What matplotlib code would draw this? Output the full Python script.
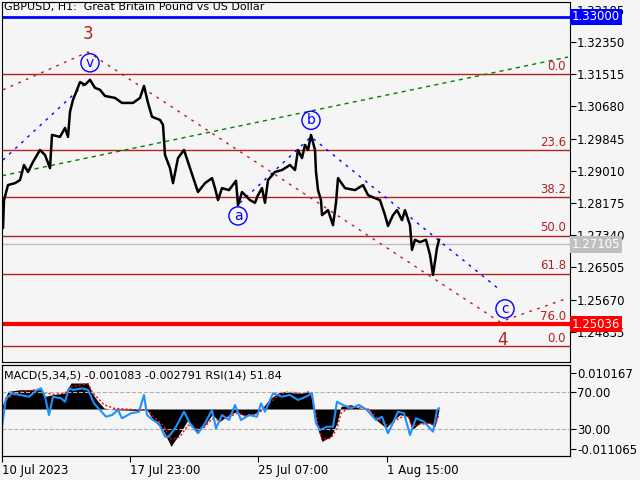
import matplotlib
matplotlib.use('Agg')
import matplotlib.pyplot as plt
import matplotlib.transforms as mtrans

# price trace (bar position, close)
px = [3, 4, 8, 15, 20, 24, 28, 33, 40, 45, 50, 52, 60, 65, 68, 70, 73, 77, 80, 85, 90, 95, 100,
      105, 115, 122, 128, 133, 140, 144, 148, 152, 160, 163, 165, 170, 173, 178, 184, 190, 195,
      198, 205, 212, 215, 218, 222, 229, 236, 238, 242, 250, 255, 258, 262, 265, 268, 275, 282,
      290, 295, 298, 302, 305, 308, 311, 315, 316, 318, 321, 322, 328, 333, 336, 338, 345, 355,
      363, 368, 375, 380, 385, 388, 393, 397, 402, 405, 410, 412, 415, 420, 426, 430, 433, 437, 439]
price = [1.2753, 1.2825, 1.2864, 1.2869, 1.2877, 1.2916, 1.2898, 1.2924, 1.2955, 1.2942, 1.2908,
         1.2994, 1.2989, 1.3012, 1.2989, 1.3054, 1.3085, 1.3111, 1.3131, 1.3124, 1.3137, 1.3116,
         1.3111, 1.3095, 1.3090, 1.3077, 1.3077, 1.3077, 1.3090, 1.3121, 1.3077, 1.3041, 1.3033,
         1.3020, 1.2942, 1.2908, 1.2869, 1.2934, 1.2955, 1.2908, 1.2869, 1.2846, 1.2869, 1.2882,
         1.2856, 1.2825, 1.2856, 1.2851, 1.2875, 1.2812, 1.2846, 1.2825, 1.2818, 1.2838, 1.2856,
         1.2818, 1.2877, 1.2898, 1.2903, 1.2916, 1.2903, 1.2955, 1.2934, 1.2968, 1.2955, 1.2994,
         1.2955, 1.2898, 1.2851, 1.2825, 1.2786, 1.2799, 1.2760, 1.2818, 1.2882, 1.2856, 1.2851,
         1.2864, 1.2838, 1.2830, 1.2825, 1.2786, 1.2758, 1.2786, 1.2799, 1.2773, 1.2799, 1.2760,
         1.2696, 1.2722, 1.2716, 1.2722, 1.2683, 1.2631, 1.2701, 1.2722]

fib_levels = [1.31515, 1.29540, 1.28320, 1.27330, 1.26345, 1.25036, 1.24460]
fib_labels = ['0.0', '23.6', '38.2', '50.0', '61.8', '76.0', '0.0']
yticks = [1.33185, 1.32350, 1.31515, 1.30680, 1.29845, 1.29010, 1.28175,
          1.27340, 1.26505, 1.25670, 1.24835]

# indicator
rsi_x = [2, 6, 12, 20, 29, 37, 41, 45, 49, 53, 61, 65, 69, 73, 82, 88, 94, 100, 106, 112, 118, 122,
         131, 139, 144, 147, 153, 159, 165, 169, 176, 184, 190, 198, 204, 212, 216, 222, 229, 235,
         241, 249, 257, 261, 265, 273, 282, 290, 298, 306, 312, 316, 320, 327, 333, 337, 343, 351,
         359, 367, 376, 382, 388, 392, 398, 404, 410, 416, 424, 433, 437, 439]
rsi = [32.5, 63.2, 68.6, 66.8, 64.9, 72.2, 74.0, 64.9, 45.1, 64.9, 63.2, 59.5, 74.0, 72.2, 74.0,
       72.2, 57.7, 50.5, 43.3, 45.1, 50.5, 41.6, 47.0, 48.7, 66.8, 45.1, 39.7, 36.1, 21.7, 21.7,
       32.5, 48.7, 36.1, 25.4, 34.3, 50.5, 30.8, 45.1, 39.7, 56.0, 39.7, 45.1, 43.3, 57.7, 48.7,
       68.6, 64.9, 66.8, 61.4, 64.9, 68.6, 36.1, 28.9, 32.5, 32.5, 59.5, 56.0, 52.4, 56.0, 50.5,
       39.7, 43.3, 25.4, 34.3, 48.7, 47.0, 23.5, 41.6, 37.9, 27.1, 50.5, 52.4]
macd_x = [2, 8, 20, 33, 41, 45, 53, 65, 71, 88, 92, 98, 104, 114, 135, 147, 153, 163, 171, 180, 188,
          196, 204, 212, 220, 229, 237, 245, 253, 261, 269, 278, 286, 294, 302, 310, 314, 318, 322,
          331, 337, 341, 351, 359, 369, 376, 386, 392, 400, 408, 412, 420, 429, 435, 439]
macd = [0.00073, 0.00493, 0.0054, 0.0054, 0.0054, 0.00353, 0.004, 0.00448, 0.00728, 0.00728,
        0.00448, 0.00213, 0.00028, -0.0002, -0.00039, -0.0002, -0.003, -0.0058, -0.01047, -0.00672,
        -0.003, -0.00627, -0.00487, -0.0016, -0.00347, -0.0016, -0.00067, -0.00207, -0.0016,
        -0.0002, 0.0026, 0.00448, 0.00493, 0.00448, 0.00448, 0.00493, -0.0002, -0.0058, -0.00907,
        -0.00767, -0.00392, 0.00073, 0.0012, 0.00028, -0.0002, -0.003, -0.00532, -0.00347, -0.0016,
        -0.00207, -0.0058, -0.00392, -0.00392, -0.00487, -0.0002]
signal = [0.0005, 0.003, 0.0048, 0.0053, 0.0054, 0.0045, 0.0041, 0.0044, 0.0062, 0.0071,
          0.0048, 0.003, 0.0012, 0.0002, -0.0002, -0.0002, -0.002, -0.0045, -0.0085, -0.0078,
          -0.0045, -0.0055, -0.0052, -0.0028, -0.0032, -0.0022, -0.0012, -0.0018, -0.0016, -0.0006,
          0.0015, 0.0038, 0.0047, 0.0046, 0.0045, 0.0048, 0.0012, -0.0042, -0.0085, -0.0082,
          -0.0055, -0.0012, 0.0008, 0.0004, -0.0001, -0.0022, -0.0045, -0.0040, -0.0024, -0.0021,
          -0.0048, -0.0043, -0.0040, -0.0046, -0.0015]
xtick_pos = [2, 130, 258, 387]
xtick_labels = ['10 Jul 2023', '17 Jul 23:00', '25 Jul 07:00', '1 Aug 15:00']

bg = '#f5f5f5'
brown = '#b22222'
fig = plt.figure(figsize=(6.4, 4.8), dpi=100, facecolor=bg)
ax = fig.add_axes([2/640, 118/480, 568/640, 360/480], facecolor=bg)
ax.set_xlim(2, 570)
ax.set_ylim(1.24052, 1.33387)

for lv in fib_levels:
    ax.axhline(lv, color=brown, lw=1)
for lv, lb in zip(fib_levels, fib_labels):
    ax.text(566, lv + 0.0004, lb, color=brown, fontsize=8.5, ha='right', va='bottom')
ax.axhline(1.33000, color='blue', lw=2)
ax.axhline(1.27105, color='#c0c0c0', lw=1)
ax.axhline(1.25036, color='red', lw=3)

# wave/channel lines
ax.plot([3, 84], [1.2929, 1.3124], color='blue', ls=(0, (2, 4)), lw=1)
ax.plot([240, 311, 500], [1.2818, 1.2989, 1.2592], color='blue', ls=(0, (2, 4)), lw=1)
ax.plot([3, 88, 500, 568], [1.3111, 1.3209, 1.2509, 1.2571], color=brown, ls=(0, (2, 4)), lw=1)
ax.plot([2, 568], [1.2888, 1.3196], color='green', ls=(0, (3, 3)), lw=1)

ax.plot(px, price, color='black', lw=1.8)

circ = dict(boxstyle='circle,pad=0.15', fc='none', ec='blue', lw=1)
for x, y, t in [(90, 1.3181, 'v'), (238, 1.2784, 'a'), (311, 1.3032, 'b'), (505, 1.2543, 'c')]:
    ax.text(x, y, t, color='blue', fontsize=10, ha='center', va='center', bbox=circ)
ax.text(88, 1.3256, '3', color=brown, fontsize=12, ha='center', va='center')
ax.text(502, 1.2463, '4', color=brown, fontsize=12, ha='center', va='center')
ax.text(4, 1.3325, 'GBPUSD, H1:  Great Britain Pound vs US Dollar', fontsize=8, va='center')

ax.yaxis.tick_right()
ax.set_yticks(yticks)
ax.set_yticklabels(['%.5f' % v for v in yticks])
ax.tick_params(axis='y', labelsize=8.5, length=4, pad=1)
ax.set_xticks([])
tr = mtrans.blended_transform_factory(ax.transAxes, ax.transData)
for lv, fc, tc in [(1.33000, 'blue', 'white'), (1.27105, '#c0c0c0', 'white'), (1.25036, 'red', 'white')]:
    ax.text(1.003, lv, '%.5f' % lv, transform=tr, color=tc, fontsize=8.5, va='center',
            bbox=dict(boxstyle='square,pad=0.15', fc=fc, ec='none'), clip_on=False)

# indicator panel
axm = fig.add_axes([2/640, 24/480, 568/640, 91/480], facecolor=bg)
axm.set_xlim(2, 570)
axm.set_ylim(-0.01316, 0.01232)
axm.fill_between(macd_x, 0, macd, color='black', lw=0)
axm.plot(macd_x, signal, color='red', ls=(0, (1.5, 1.5)), lw=1)
axm.set_xticks(xtick_pos)
axm.set_xticklabels(xtick_labels, ha='left')
axm.tick_params(axis='x', labelsize=8.5, length=4, pad=2)

axr = axm.twinx()
axr.set_ylim(0.8, 99.2)
axr.axhline(70, color='#b0b0b0', ls='--', lw=0.8)
axr.axhline(30, color='#b0b0b0', ls='--', lw=0.8)
axr.plot(rsi_x, rsi, color='#1e90ff', lw=1.5)
axr.set_yticks([70, 30])
axr.set_yticklabels(['70.00', '30.00'])
axr.tick_params(axis='y', labelsize=8.5, length=4, pad=1)

axm.yaxis.tick_right()
axm.set_yticks([0.010167, -0.011065])
axm.set_yticklabels(['0.010167', '-0.011065'])
axm.tick_params(axis='y', labelsize=8.5, length=4, pad=1)
axm.text(4, 0.0093, 'MACD(5,34,5) -0.001083 -0.002791 RSI(14) 51.84', fontsize=8, va='center',
         zorder=5)

fig.savefig('out.png', dpi=100, facecolor=bg)
